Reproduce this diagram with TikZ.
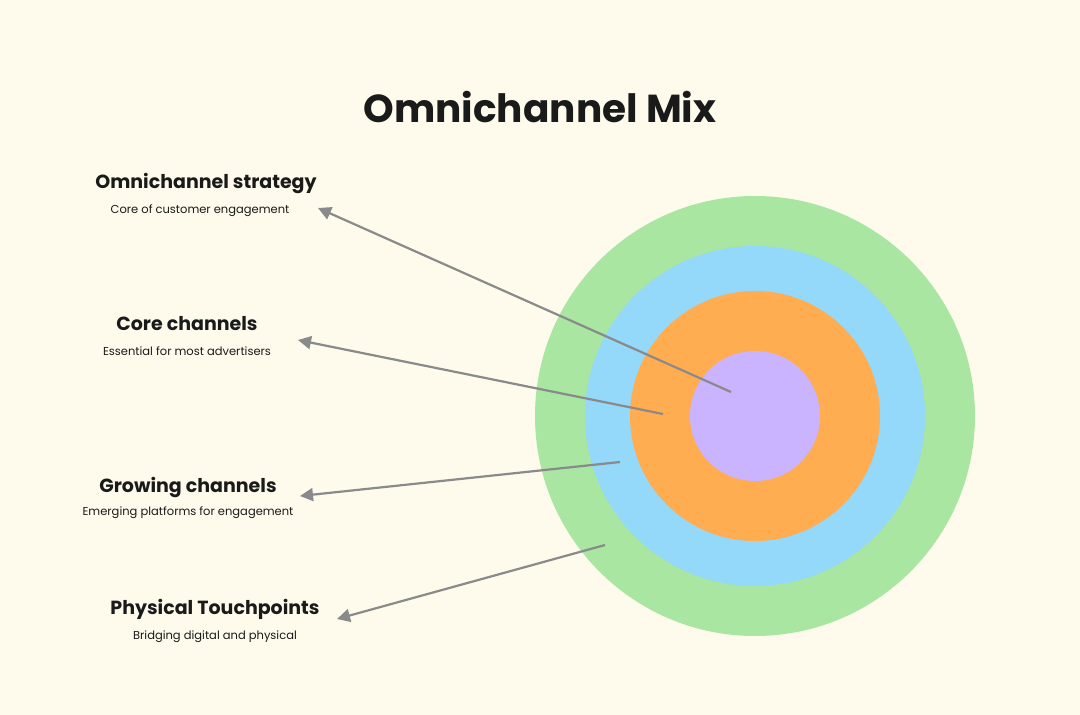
\documentclass[tikz,border=0pt]{standalone}
\usepackage{fontspec}
\setmainfont{Poppins}
\usetikzlibrary{arrows.meta}
\definecolor{bg}{HTML}{FEFBEC}
\definecolor{gr}{HTML}{A8E6A2}
\definecolor{bl}{HTML}{94D8FA}
\definecolor{org}{HTML}{FFAD50}
\definecolor{pu}{HTML}{CAB3FF}
\definecolor{ln}{HTML}{8A8A8A}
\definecolor{tx}{HTML}{1A1A1A}
\begin{document}
\begin{tikzpicture}[x=1pt,y=-1pt,
  head/.style={font=\fontsize{19}{22}\selectfont\bfseries, text=tx, anchor=center},
  sub/.style={font=\fontsize{11.5}{13}\selectfont, text=tx, anchor=center},
  conn/.style={draw=ln, line width=2.2pt, {Triangle[length=13pt,width=13pt]}-}]
\useasboundingbox[fill=bg] (0,0) rectangle (1080,715);
\fill[gr] (755,416) circle (220);
\fill[bl] (755,416) circle (170);
\fill[org] (755,416) circle (125);
\fill[pu] (755,416) circle (65);
\node[font=\fontsize{39}{44}\selectfont\bfseries, text=tx] (title) at (540,107) {Omnichannel Mix};
\node[head] (h1) at (206,184) {Omnichannel strategy};
\node[sub] (s1) at (200,211) {Core of customer engagement};
\node[head] (h2) at (187,324) {Core channels};
\node[sub] (s2) at (187,351) {Essential for most advertisers};
\node[head] (h3) at (188,487) {Growing channels};
\node[sub] (s3) at (188,513) {Emerging platforms for engagement};
\node[head] (h4) at (215,609) {Physical Touchpoints};
\node[sub] (s4) at (215,637) {Bridging digital and physical};
\coordinate (a1) at (318,208); \coordinate (e1) at (731,392);
\coordinate (a2) at (298,340); \coordinate (e2) at (663,414);
\coordinate (a3) at (300,496); \coordinate (e3) at (620,462);
\coordinate (a4) at (337,619); \coordinate (e4) at (605,545);
\draw[conn] (a1) -- (e1);
\draw[conn] (a2) -- (e2);
\draw[conn] (a3) -- (e3);
\draw[conn] (a4) -- (e4);
\end{tikzpicture}
\end{document}
